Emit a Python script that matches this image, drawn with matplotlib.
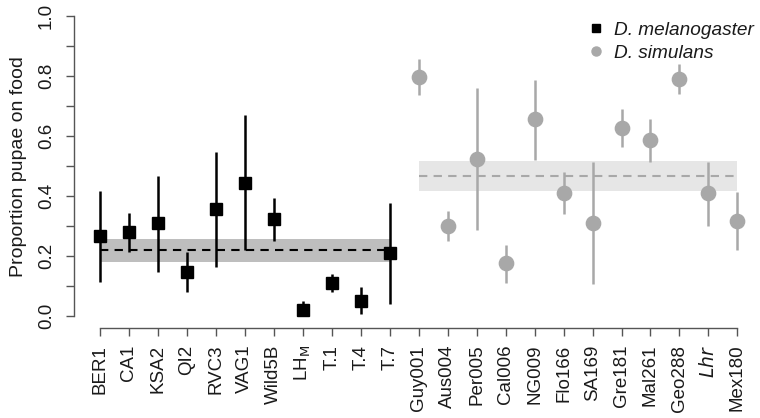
import matplotlib
matplotlib.use("Agg")
import matplotlib.pyplot as plt
from matplotlib.lines import Line2D

plt.rcParams['font.family'] = ['Liberation Sans', 'DejaVu Sans']

# D. melanogaster lines
mel_lines = ["BER1", "CA1", "KSA2", "QI2", "RVC3", "VAG1", "Wild5B",
             "LH$_\\mathrm{M}$", "T.1", "T.4", "T.7"]
mel_mean = [0.267, 0.279, 0.309, 0.148, 0.357, 0.444, 0.323, 0.022, 0.111, 0.050, 0.209]
mel_low = [0.114, 0.214, 0.148, 0.081, 0.164, 0.222, 0.251, 0.000, 0.081, 0.007, 0.040]
mel_high = [0.417, 0.344, 0.468, 0.214, 0.548, 0.670, 0.393, 0.050, 0.142, 0.096, 0.376]

# D. simulans lines
sim_lines = ["Guy001", "Aus004", "Per005", "Cal006", "NG009", "Flo166", "SA169",
             "Gre181", "Mal261", "Geo288", "$\\mathit{Lhr}$", "Mex180"]
sim_mean = [0.798, 0.300, 0.523, 0.176, 0.656, 0.411, 0.309, 0.628, 0.587, 0.792, 0.409, 0.318]
sim_low = [0.737, 0.251, 0.287, 0.111, 0.520, 0.340, 0.106, 0.564, 0.514, 0.742, 0.301, 0.220]
sim_high = [0.857, 0.350, 0.762, 0.237, 0.787, 0.479, 0.514, 0.690, 0.658, 0.839, 0.514, 0.414]

# species-level estimate and interval
mel_overall = (0.220, 0.180, 0.257)
sim_overall = (0.468, 0.418, 0.517)

yticks = [0.0, 0.1, 0.2, 0.3, 0.4, 0.5, 0.6, 0.7, 0.8, 0.9, 1.0]

fig = plt.figure(figsize=(7.6, 4.18), dpi=100)
ax = fig.add_axes([0.098, 0.215, 0.902, 0.775])

mel_x = list(range(1, len(mel_lines) + 1))
sim_x = list(range(len(mel_lines) + 1, len(mel_lines) + len(sim_lines) + 1))

black = 'black'
grey = '#a8a8a8'
txt = '#1a1a1a'

# shaded bands with dashed means
ax.fill_between([mel_x[0], mel_x[-1]], mel_overall[1], mel_overall[2],
                color='#bebebe', lw=0, zorder=1)
ax.plot([mel_x[0], mel_x[-1]], [mel_overall[0]] * 2, ls=(0, (4, 3)),
        color=black, lw=1.5, zorder=2)
ax.fill_between([sim_x[0], sim_x[-1]], sim_overall[1], sim_overall[2],
                color='#e6e6e6', lw=0, zorder=1)
ax.plot([sim_x[0], sim_x[-1]], [sim_overall[0]] * 2, ls=(0, (4, 3)),
        color=grey, lw=1.5, zorder=2)

# error bars and points
ax.vlines(mel_x, mel_low, mel_high, color=black, lw=1.8, zorder=3)
ax.plot(mel_x, mel_mean, 's', color=black, ms=9.3, zorder=4)
ax.vlines(sim_x, sim_low, sim_high, color=grey, lw=1.8, zorder=3)
ax.plot(sim_x, sim_mean, 'o', color=grey, ms=10.3, zorder=4)

n = len(mel_lines) + len(sim_lines)
ax.set_xlim(1 - 0.04 * (n - 1), n + 0.04 * (n - 1) - 0.1)
ax.set_ylim(-0.04, 1.04)

ax.set_xticks(mel_x + sim_x)
ax.set_xticklabels(mel_lines + sim_lines, rotation=90, fontsize=13.5, color=txt)
ax.set_yticks(yticks)
ax.set_yticklabels([f'{v:.1f}' if i % 2 == 0 else '' for i, v in enumerate(yticks)],
                   rotation=90, va='center', fontsize=13.5, color=txt)
ax.set_ylabel('Proportion pupae on food', fontsize=14, color=txt, labelpad=8)

for side in ['top', 'right']:
    ax.spines[side].set_visible(False)
ax.spines['left'].set_bounds(0, 1)
ax.spines['bottom'].set_bounds(1, n)
for side in ['left', 'bottom']:
    ax.spines[side].set_color('#555555')
    ax.spines[side].set_linewidth(1.0)
ax.tick_params(direction='out', length=6, width=1.0, color='#555555')
ax.tick_params(axis='x', pad=6)
ax.tick_params(axis='y', pad=8)

handles = [Line2D([], [], marker='s', color=black, ls='none', ms=5.5),
           Line2D([], [], marker='o', color=grey, ls='none', ms=6.5)]
leg = ax.legend(handles, ['D. melanogaster', 'D. simulans'], loc='upper right',
                bbox_to_anchor=(1.008, 0.982), frameon=False, fontsize=13.7,
                handletextpad=0.45, borderpad=0.1, labelspacing=0.32, handlelength=1.0)
for t in leg.get_texts():
    t.set_fontstyle('italic')
    t.set_color(txt)

fig.savefig('out.png', dpi=100)
